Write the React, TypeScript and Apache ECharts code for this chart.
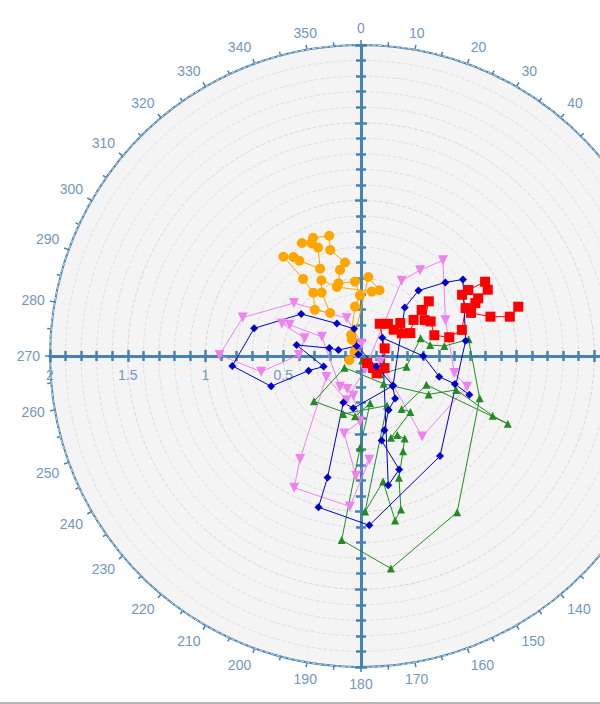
import React, { useEffect, useRef } from 'react';
import * as echarts from 'echarts';

// [radius, angle] pairs
const orangeData: [number, number][] = [
  [0.05, 304], [0.12, 330.6], [0.15, 335], [0.32, 353], [0.39, 359], [0.48, 355.4],
  [0.49, 342.8], [0.57, 346.3], [0.61, 350.3], [0.71, 343.8], [0.8, 345.2],
  [0.82, 337.9], [0.82, 332.4], [0.79, 336.4], [0.75, 338.4], [0.62, 334.9],
  [0.73, 327.1], [0.77, 325.7], [0.81, 322], [0.62, 323.1], [0.51, 323],
  [0.42, 315], [0.34, 324.4], [0.48, 328.2], [0.55, 332.4], [0.47, 340.7],
  [0.42, 9.4], [0.44, 15.7], [0.51, 5.3], [0.08, 250]
];

const redData: [number, number][] = [
  [0.06, 139], [0.11, 135], [0.15, 137.8], [0.17, 117.1], [0.16, 72.2],
  [0.24, 30.2], [0.27, 39.9], [0.27, 51.2], [0.33, 50], [0.3, 60.9],
  [0.35, 65.1], [0.41, 55.5], [0.49, 52.8], [0.56, 51.1], [0.47, 60.6],
  [0.5, 63.6], [0.49, 74.2], [0.58, 78], [0.67, 75.5], [0.74, 65.4],
  [0.76, 58.8], [0.81, 58.4], [0.93, 59.1], [0.92, 62.4], [0.84, 63.8],
  [0.81, 65.2], [0.76, 68.6], [0.87, 73.1], [0.99, 75.2], [1.06, 72.6]
];

const blueData: [number, number][] = [
  [0.02, 300], [0.18, 345.8], [0.26, 323.4], [0.47, 305.1], [0.71, 284.5],
  [0.83, 265.6], [0.61, 251.4], [0.35, 254.4], [0.25, 254.2], [0.42, 279.7],
  [0.21, 284], [0.15, 284.8], [0.07, 336.7], [0.12, 124.3], [0.28, 132.6],
  [0.42, 42.1], [0.56, 41.3], [0.72, 48.9], [0.82, 53.1], [0.68, 81.7],
  [0.82, 141.7], [1.09, 177.2], [1.01, 195.7], [0.81, 195.4], [0.32, 200.8],
  [0.34, 188.4], [0.28, 133.4], [0.35, 141.2], [0.39, 152.9], [0.5, 162.5],
  [0.56, 166.3], [0.77, 161.4], [0.85, 168.1], [0.18, 49.5], [0.4, 90],
  [0.52, 104.8], [0.63, 106.6], [0.74, 109.7]
];

const greenData: [number, number][] = [
  [0.03, 165], [0.17, 133.5], [0.3, 103.2], [0.4, 73.3], [0.45, 80.9],
  [0.54, 83.2], [0.7, 81.2], [0.81, 109.6], [1.18, 148.4], [1.38, 172],
  [1.19, 186], [0.59, 180.6], [0.31, 169.1], [0.39, 185.6], [0.42, 226.1],
  [0.13, 234.8], [0.23, 140.8], [0.5, 119.6], [0.65, 109.6], [0.93, 114.4],
  [1.04, 114.8], [0.46, 113.8], [0.43, 142.6], [0.48, 138.6], [0.56, 159.9],
  [0.56, 155.3], [0.6, 152.1], [0.67, 156.2], [0.82, 162.7], [1.02, 165.4],
  [1.08, 168.3], [0.82, 170], [1.0, 178.5], [0.36, 152.3], [0.39, 197.2]
];

const violetData: [number, number][] = [
  [0.03, 285], [0.08, 3], [0.26, 339.2], [0.55, 308.3], [0.8, 288],
  [0.91, 270.4], [0.65, 261], [0.4, 270.9], [0.38, 287.5], [0.55, 292.4],
  [0.5, 293.6], [0.28, 296.2], [0.24, 214.4], [0.23, 202.4], [0.26, 190.9],
  [0.42, 180.9], [0.51, 192.3], [0.77, 182.4], [0.67, 175.4], [0.97, 184.2],
  [0.95, 206.9], [0.77, 210.6], [0.26, 238.9], [0.3, 198], [0.09, 164],
  [0.55, 28.4], [0.67, 34.5], [0.81, 40.6], [0.59, 67], [0.61, 100.4],
  [0.71, 106.2], [0.65, 142.8], [0.13, 107.5]
];

// directions of the four radial axes (ECharts degrees, counter-clockwise from 3 o'clock)
const axisDirections = [90, 0, -90, 180];

const AXIS_BLUE = '#4682b4';
const LABEL_BLUE = '#7397bd';
const GRID_GREY = '#d6d6d6';
const FONT = 'Liberation Sans, Arial, sans-serif';

const App: React.FC = () => {
  const chartRef = useRef<HTMLDivElement>(null);

  useEffect(() => {
    document.body.style.margin = '0';
    if (!chartRef.current) return;
    const chart = echarts.init(chartRef.current, null, { renderer: 'svg' });

    const polar: any[] = [];
    const angleAxis: any[] = [];
    const radiusAxis: any[] = [];

    // two polars per direction: one carries the ticks on each side of the cross line
    axisDirections.forEach((dir) => {
      [1, -1].forEach((side) => {
        const idx = polar.length;
        const main = idx === 0;
        polar.push({ center: [361, 356], radius: 311 });
        angleAxis.push({
          polarIndex: idx,
          type: 'value',
          min: 0,
          max: 360,
          interval: 10,
          startAngle: dir,
          clockwise: true,
          show: main,
          axisLine: { show: true, lineStyle: { color: AXIS_BLUE, width: 2 } },
          axisTick: { show: true, length: 5, lineStyle: { color: AXIS_BLUE, width: 1.5 } },
          minorTick: { show: true, splitNumber: 2, length: 4, lineStyle: { color: AXIS_BLUE, width: 1.5 } },
          axisLabel: {
            color: LABEL_BLUE,
            fontSize: 14,
            fontFamily: FONT,
            margin: 10,
            formatter: (v: number) => (v === 360 ? '' : String(v))
          },
          splitLine: { show: true, lineStyle: { color: GRID_GREY, type: 'dashed', width: 1 } },
          minorSplitLine: { show: true, lineStyle: { color: '#e2e2e2', type: 'dotted', width: 1 } },
          splitArea: { show: true, areaStyle: { color: ['#f4f4f4', '#f4f4f4'] } },
          z: 0
        });
        const showLabel = dir === 180 && side === 1;
        radiusAxis.push({
          polarIndex: idx,
          type: 'value',
          min: 0,
          max: 2,
          interval: 0.5,
          axisLine: { show: true, lineStyle: { color: AXIS_BLUE, width: 3 } },
          axisTick: { show: true, length: 6 * side, lineStyle: { color: AXIS_BLUE, width: 2.5 } },
          minorTick: { show: true, splitNumber: 5, length: 5 * side, lineStyle: { color: AXIS_BLUE, width: 2.5 } },
          axisLabel: {
            show: showLabel,
            color: LABEL_BLUE,
            fontSize: 14,
            fontFamily: FONT,
            margin: 12,
            formatter: (v: number) => (v === 0 ? '' : String(v))
          },
          splitLine: {
            show: main,
            lineStyle: { color: GRID_GREY, type: 'dashed', width: 1 }
          },
          minorSplitLine: {
            show: main,
            lineStyle: { color: '#e0e0e0', type: 'dashed', width: 1 }
          },
          z: 1
        });
      });
    });

    const makeSeries = (name: string, data: [number, number][], color: string, symbol: string, size: number, rotate = 0) => ({
      name,
      type: 'line',
      coordinateSystem: 'polar',
      polarIndex: 0,
      data,
      symbol,
      symbolSize: size,
      symbolRotate: rotate,
      showSymbol: true,
      lineStyle: { color, width: 1 },
      itemStyle: { color },
      z: 3
    });

    chart.setOption({
      animation: false,
      polar,
      angleAxis,
      radiusAxis,
      graphic: [
        { type: 'rect', shape: { x: 0, y: 702, width: 600, height: 2 }, style: { fill: '#b5b5b5' } }
      ],
      series: [
        makeSeries('violet', violetData, '#ee82ee', 'triangle', 10, 180),
        makeSeries('orange', orangeData, '#ffa500', 'circle', 10),
        makeSeries('green', greenData, '#228b22', 'triangle', 8),
        makeSeries('red', redData, '#ff0000', 'rect', 10),
        makeSeries('blue', blueData, '#0000cd', 'diamond', 8)
      ]
    });

    return () => {
      chart.dispose();
    };
  }, []);

  return <div ref={chartRef} style={{ width: 600, height: 704 }} />;
};

export default App;
